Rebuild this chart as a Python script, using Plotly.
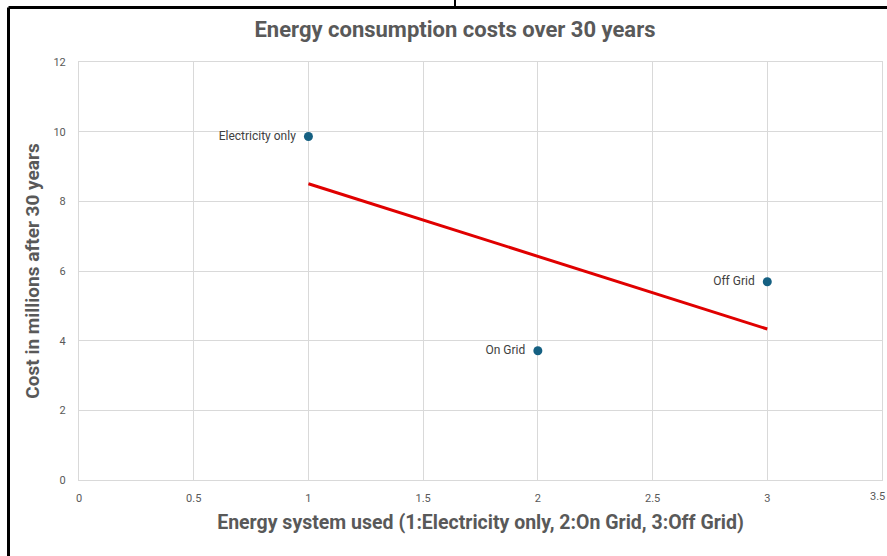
import numpy as np
import plotly.graph_objects as go

# Data
systems = [1, 2, 3]
costs = [9.86, 3.71, 5.69]
labels = ["Electricity only", "On Grid", "Off Grid"]
x_ticks = [0, 0.5, 1, 1.5, 2, 2.5, 3, 3.5]
x_tick_text = ["0", "0.5", "1", "1.5", "2", "2.5", "3", "3.5"]
y_ticks = [0, 2, 4, 6, 8, 10, 12]

# Linear trendline (least squares fit of the data)
slope, intercept = np.polyfit(systems, costs, 1)
trend_x = [min(systems), max(systems)]
trend_y = [slope * v + intercept for v in trend_x]

FONT = "Roboto, sans-serif"
GREY = "#595959"
GRID = "#d9d9d9"

fig = go.Figure()
fig.add_trace(go.Scatter(
    x=trend_x, y=trend_y, mode="lines",
    line=dict(color="#e00000", width=3), hoverinfo="skip", showlegend=False))
fig.add_trace(go.Scatter(
    x=systems, y=costs, mode="markers+text",
    text=[t + "\u00a0\u00a0" for t in labels],
    textposition="middle left",
    textfont=dict(family=FONT, size=12, color="#404040"),
    marker=dict(color="#156082", size=9), showlegend=False))

W, H = 887, 556
L, R, T, B = 79, 5, 62, 76
pw, ph = W - L - R, H - T - B

def px(X):
    return (X - L) / pw

def py(Y):
    return (H - B - Y) / ph

black = dict(color="black", width=3)
shapes = [
    dict(type="line", xref="paper", yref="paper", x0=px(8.5), x1=px(887), y0=py(7.5), y1=py(7.5), line=black),
    dict(type="line", xref="paper", yref="paper", x0=px(8.5), x1=px(8.5), y0=py(7.5), y1=py(556), line=black),
    dict(type="line", xref="paper", yref="paper", x0=px(455), x1=px(455), y0=py(0), y1=py(7.5), line=dict(color="black", width=2)),
]

# last x tick label, kept inside the page at the right edge
annotations = [
    dict(x=x_ticks[-1], y=0, xref="x", yref="y", text=x_tick_text[-1],
         showarrow=False, yshift=-16, xanchor="right", xshift=5,
         font=dict(family=FONT, size=11, color=GREY)),
]

fig.update_layout(
    width=W, height=H,
    margin=dict(l=L, r=R, t=T, b=B),
    paper_bgcolor="white", plot_bgcolor="white",
    title=dict(text="<b>Energy consumption costs over 30 years</b>",
               xref="container", x=455 / W, xanchor="center",
               y=1 - 29 / H, yanchor="middle",
               font=dict(family=FONT, size=22, color=GREY)),
    xaxis=dict(range=[0, 3.5], tickvals=x_ticks[:-1], ticktext=x_tick_text[:-1],
               showgrid=True, gridcolor=GRID, gridwidth=1,
               zeroline=False, showline=True, mirror=True, linecolor=GRID, linewidth=1,
               ticks="", ticklabelstandoff=8,
               tickfont=dict(family=FONT, size=11, color=GREY),
               title=dict(text="<b>Energy system used (1:Electricity only, 2:On Grid, 3:Off Grid)</b>",
                          font=dict(family=FONT, size=19.5, color=GREY), standoff=11)),
    yaxis=dict(range=[0, 12], tickvals=y_ticks,
               showgrid=True, gridcolor=GRID, gridwidth=1,
               zeroline=False, showline=True, mirror=True, linecolor=GRID, linewidth=1,
               ticks="", ticklabelstandoff=10,
               tickfont=dict(family=FONT, size=11, color=GREY),
               title=dict(text="<b>Cost in millions after 30 years</b>",
                          font=dict(family=FONT, size=19, color=GREY), standoff=8)),
    shapes=shapes,
    annotations=annotations,
)

fig.write_html("out.html")
